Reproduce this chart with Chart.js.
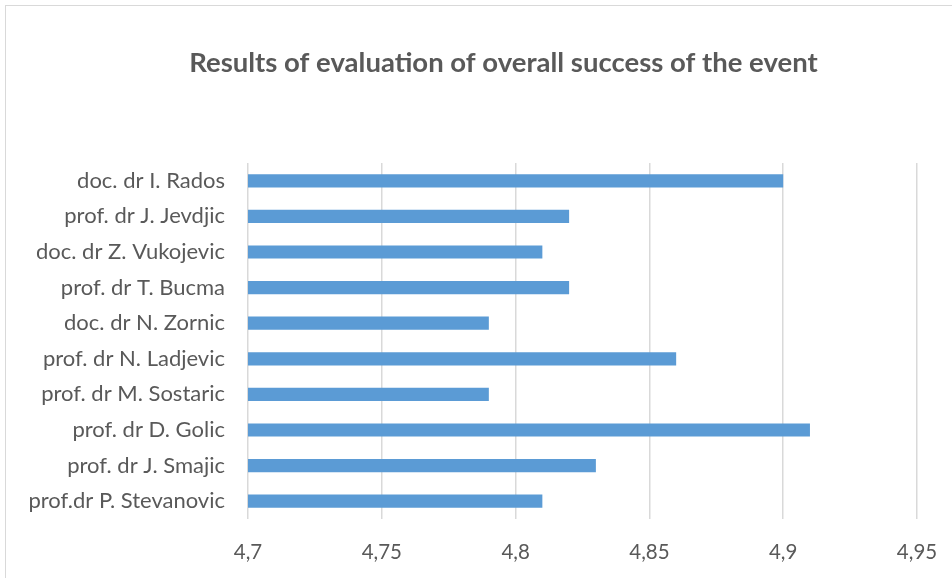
<!DOCTYPE html>
<html>
<head>
<meta charset="utf-8">
<script src="https://cdn.jsdelivr.net/npm/chart.js@4/dist/chart.umd.min.js"></script>
<style>
html,body{margin:0;padding:0;background:#fff;}
#wrap{position:absolute;left:0;top:0;width:952px;height:578px;}
#frame{position:absolute;left:5px;top:5px;width:960px;height:600px;border:1.5px solid #d9d9d9;box-sizing:border-box;}
canvas{position:absolute;left:0;top:0;}
</style>
</head>
<body>
<div id="wrap"><div id="frame"></div><canvas id="c" width="952" height="578"></canvas></div>
<script>
const categories = [
  "doc. dr I. Rados",
  "prof. dr J. Jevdjic",
  "doc. dr Z. Vukojevic",
  "prof. dr T. Bucma",
  "doc. dr N. Zornic",
  "prof. dr N. Ladjevic",
  "prof. dr M. Sostaric",
  "prof. dr D. Golic",
  "prof. dr J. Smajic",
  "prof.dr P. Stevanovic"
];
const scores = [4.90, 4.82, 4.81, 4.82, 4.79, 4.86, 4.79, 4.91, 4.83, 4.81];
const xMin = 4.7, xMax = 4.95, xStep = 0.05;
const titleText = "Results of evaluation of overall success of the event";

const FONT = "Lato, 'Open Sans', sans-serif";
const TXT = "#595959";

const shiftTitle = {
  id: 'shiftTitle',
  afterLayout(chart) {
    const t = chart.titleBlock;
    if (t) { t.left += 45; t.right += 45; }
  }
};

new Chart(document.getElementById('c'), {
  type: 'bar',
  data: {
    labels: categories,
    datasets: [{
      data: scores,
      backgroundColor: '#5B9BD5',
      borderWidth: 0,
      barPercentage: 0.37,
      categoryPercentage: 1.0
    }]
  },
  plugins: [shiftTitle],
  options: {
    indexAxis: 'y',
    responsive: false,
    animation: false,
    layout: { padding: { left: 0, right: 35, top: 0, bottom: 0 } },
    plugins: {
      legend: { display: false },
      tooltip: { enabled: false },
      title: {
        display: true,
        text: titleText,
        color: TXT,
        font: { family: FONT, size: 27.5, weight: 'bold', lineHeight: 1.2 },
        padding: { top: 47, bottom: 83 }
      }
    },
    scales: {
      x: {
        min: xMin, max: xMax,
        ticks: {
          stepSize: xStep,
          color: TXT,
          font: { family: FONT, size: 20.5 },
          padding: 21,
          callback: v => String(Math.round(v * 100) / 100).replace('.', ',')
        },
        grid: { color: '#d9d9d9', lineWidth: 1.5, drawTicks: false },
        border: { display: false },
        afterFit: s => { s.height = 59; s.paddingLeft = 0; s.paddingRight = 0; }
      },
      y: {
        ticks: {
          color: TXT,
          font: { family: FONT, size: 22 },
          padding: 23,
          autoSkip: false
        },
        grid: { display: false, drawTicks: false },
        border: { display: false },
        afterFit: s => { s.width = 248; s.paddingTop = 0; s.paddingBottom = 0; }
      }
    }
  }
});
</script>
</body>
</html>
